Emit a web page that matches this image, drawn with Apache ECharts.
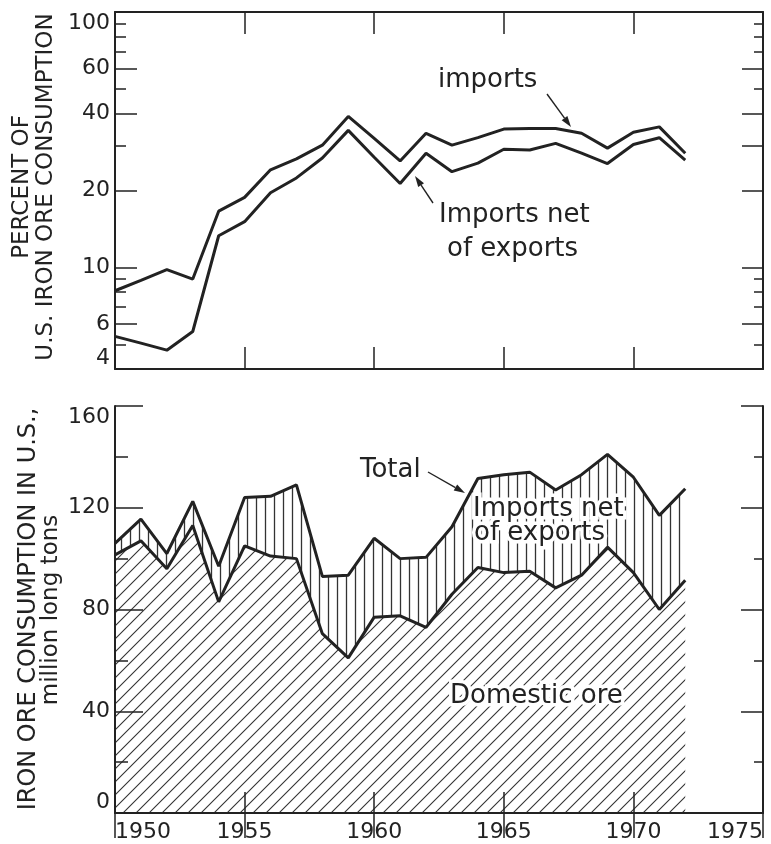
<!DOCTYPE html>
<html><head><meta charset="utf-8">
<script src="https://cdn.jsdelivr.net/npm/echarts@6/dist/echarts.min.js"></script>
<style>html,body{margin:0;padding:0;background:#fff}#c{width:771px;height:844px}</style>
</head><body><div id="c"></div>
<script>
// ---- data ----
const years = [1950,1951,1952,1953,1954,1955,1956,1957,1958,1959,1960,1961,1962,1963,1964,1965,1966,1967,1968,1969,1970,1971,1972];
// top panel: percent of U.S. iron ore consumption
const importsPct = [8.1,8.9,9.8,9.0,16.6,18.8,24.1,26.6,30.1,39,32,26.1,33.5,30.1,32.2,34.8,35,35,33.5,29.3,33.8,35.5,28];
const netImportsPct = [5.37,5.05,4.74,5.61,13.3,15.1,19.6,22.4,26.8,34.4,27,21.3,28,23.7,25.6,29,28.8,30.6,28,25.5,30.3,32.2,26.3];
// bottom panel: million long tons
const totalTons = [106,115.5,102,122.5,97,124,124.5,129,93,93.5,108,100,100.5,112.5,131.5,133,134,127,133,141,132,117,127.5];
const domesticTons = [101.5,107,96,113,83,105,101,100,70.5,61,77,77.5,73,86,96.5,94.5,95,88.5,93.5,104.5,94.5,80,91.5];
// tick values
const pctMajorTicks = [4,6,10,20,40,60,100];
const pctMinorTicksLeft = [5,7,8,9,30,50,70,80,90];
const pctLongTicksRight = [6,10,20,30,40,60];
const pctShortTicksRight = [5,7,8,9,50,70,80,90];

const ink = '#222';
const FONT = '"DejaVu Sans", sans-serif';

function pairs(xs, ys){ return xs.map((x,i)=>[x, ys[i]]); }

function diagPattern(){
  const s = 13, c = document.createElement('canvas'); c.width = s; c.height = s;
  const g = c.getContext('2d');
  g.fillStyle = '#fff'; g.fillRect(0,0,s,s);
  g.strokeStyle = '#333'; g.lineWidth = 1.1;
  g.beginPath();
  g.moveTo(-1, s+1); g.lineTo(s+1, -1);
  g.moveTo(-1, 1); g.lineTo(1, -1);
  g.moveTo(s-1, s+1); g.lineTo(s+1, s-1);
  g.stroke();
  return c;
}
function vertPattern(){
  const w = 9, h = 9, c = document.createElement('canvas'); c.width = w; c.height = h;
  const g = c.getContext('2d');
  g.strokeStyle = '#333'; g.lineWidth = 1.3;
  g.beginPath(); g.moveTo(4.5, 0); g.lineTo(4.5, h); g.stroke();
  return c;
}

const axisLine = {show:true, lineStyle:{color:ink, width:2}};
function xAx(grid, pos, len, labels){
  return {type:'value', gridIndex:grid, position:pos, min:1950, max:1975, interval:5, z:10,
    axisLine, splitLine:{show:false},
    axisTick:{show:true, inside:true, length:len, lineStyle:{color:ink, width:1.5}},
    axisLabel: labels ? {show:true, color:ink, fontFamily:FONT, fontSize:22, margin:8,
        formatter:(v)=>String(v), alignMinLabel:'left', alignMaxLabel:'right'} : {show:false}};
}
function logAx(pos, ticks, len, labels, line){
  return {type:'log', logBase:10, gridIndex:0, position:pos, min:4, max:100, z:10,
    axisLine: line ? axisLine : {show:false}, splitLine:{show:false}, minorTick:{show:false},
    axisTick:{show:true, inside:true, length:len, customValues:ticks, lineStyle:{color:ink, width:1.5}},
    axisLabel: labels ? {show:true, customValues:ticks, color:ink, fontFamily:FONT, fontSize:22, margin:5,
        verticalAlignMinLabel:'bottom', verticalAlignMaxLabel:'top'} : {show:false}};
}
function tonAx(pos, len, mlen, labels){
  return {type:'value', gridIndex:1, position:pos, min:0, max:160, interval:40, z:10,
    axisLine, splitLine:{show:false},
    axisTick:{show:true, inside:true, length:len, lineStyle:{color:ink, width:1.5}},
    minorTick:{show:true, splitNumber:2, length:mlen, lineStyle:{color:ink, width:1.5}},
    axisLabel: labels ? {show:true, color:ink, fontFamily:FONT, fontSize:22, margin:5,
        verticalAlignMinLabel:'bottom', verticalAlignMaxLabel:'top'} : {show:false}};
}

function txt(x, y, s, size, align, rot){
  const base = {text:s, font:size+'px '+FONT, align:align||'left', textAlign:align||'left',
    verticalAlign:'middle', textVerticalAlign:'middle'};
  return {type:'text', x, y, rotation:rot||0, z:100, style:Object.assign({fill:ink}, base)};
}
function haloTxt(x, y, s, size, align){
  const base = {text:s, font:size+'px '+FONT, align:align||'left', textAlign:align||'left',
    verticalAlign:'middle', textVerticalAlign:'middle'};
  return [
    {type:'text', x, y, z:99, style:Object.assign({fill:'#fff', stroke:'#fff', lineWidth:7}, base)},
    {type:'text', x, y, z:100, style:Object.assign({fill:ink}, base)}
  ];
}
function arrow(x1,y1,x2,y2){
  const a = Math.atan2(y2-y1, x2-x1), L = 11, W = 3.5;
  const bx = x2 - L*Math.cos(a), by = y2 - L*Math.sin(a);
  const px = -Math.sin(a)*W, py = Math.cos(a)*W;
  return [
    {type:'line', z:100, shape:{x1, y1, x2:bx, y2:by}, style:{stroke:ink, lineWidth:1.4}},
    {type:'polygon', z:100, shape:{points:[[x2,y2],[bx+px,by+py],[bx-px,by-py]]}, style:{fill:ink}}
  ];
}

const chart = echarts.init(document.getElementById('c'), null, {renderer:'canvas'});
const lineStyle = {color:ink, width:3};
chart.setOption({
  backgroundColor:'#fff',
  animation:false,
  grid:[
    {left:115, top:12, width:648, height:357},
    {left:115, top:406, width:648, height:407}
  ],
  xAxis:[
    xAx(0,'bottom',22,false),
    xAx(0,'top',22,false),
    xAx(1,'bottom',21,true),
    xAx(1,'top',25,false)
  ],
  yAxis:[
    logAx('left', pctMajorTicks, 22, true, true),
    logAx('left', pctMinorTicksLeft, 11, false, false),
    logAx('right', pctLongTicksRight, 21, false, true),
    logAx('right', pctShortTicksRight, 9, false, false),
    tonAx('left', 28, 13, true),
    tonAx('right', 22, 9, false)
  ],
  series:[
    {type:'line', name:'imports', xAxisIndex:0, yAxisIndex:0, data:pairs(years, importsPct),
      showSymbol:false, symbol:'none', lineStyle, z:3},
    {type:'line', name:'Imports net of exports', xAxisIndex:0, yAxisIndex:0, data:pairs(years, netImportsPct),
      showSymbol:false, symbol:'none', lineStyle, z:3},
    {type:'line', name:'Total', xAxisIndex:2, yAxisIndex:4, data:pairs(years, totalTons),
      showSymbol:false, symbol:'none', lineStyle, z:2,
      areaStyle:{color:{image:vertPattern(), repeat:'repeat'}, opacity:1}},
    {type:'line', name:'Domestic ore', xAxisIndex:2, yAxisIndex:4, data:pairs(years, domesticTons),
      showSymbol:false, symbol:'none', lineStyle, z:3,
      areaStyle:{color:{image:diagPattern(), repeat:'repeat'}, opacity:1}}
  ],
  graphic:[].concat(
    [txt(22, 187, 'PERCENT OF', 23, 'center', Math.PI/2),
     txt(46, 187, 'U.S. IRON ORE CONSUMPTION', 23, 'center', Math.PI/2),
     txt(29, 609, 'IRON ORE CONSUMPTION IN U.S.,', 24, 'center', Math.PI/2),
     txt(51, 610, 'million long tons', 23, 'center', Math.PI/2),
     txt(438, 80, 'imports', 26, 'left'),
     txt(439, 215, 'Imports net', 26, 'left'),
     txt(447, 249, 'of exports', 26, 'left')],
    arrow(547, 94, 571, 127),
    arrow(433, 203, 415, 176),
    haloTxt(360, 470, 'Total', 26, 'left'),
    arrow(428, 472, 465, 493),
    haloTxt(473, 509, 'Imports net', 26, 'left'),
    haloTxt(474, 533, 'of exports', 26, 'left'),
    haloTxt(450, 696, 'Domestic ore', 26, 'left')
  )
});
</script>
</body></html>
